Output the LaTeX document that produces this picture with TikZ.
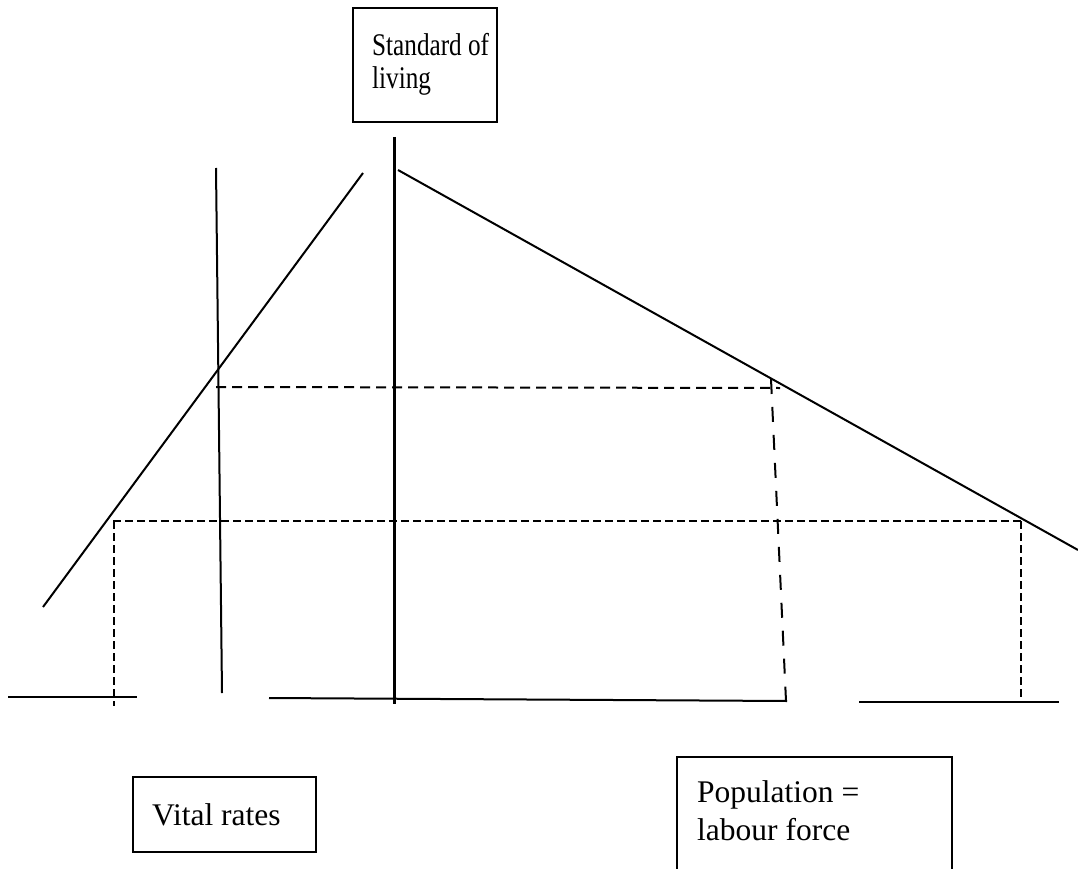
\documentclass[tikz,border=0pt]{standalone}
\usepackage{fontspec}
\setmainfont{Liberation Serif}
\newfontfamily\narrowserif[FakeStretch=0.8]{Liberation Serif}
\begin{document}
\begin{tikzpicture}[x=1pt,y=-1pt,
  thinline/.style={line width=2pt},
  axisline/.style={line width=3pt},
  boxline/.style={line width=2.5pt},
  shortdash/.style={line width=2.3pt,dash pattern=on 8pt off 4pt},
  longdash/.style={line width=2pt,dash pattern=on 15pt off 13pt},
  middash/.style={line width=2pt,dash pattern=on 10pt off 6pt},
  lbl/.style={align=left,inner sep=0pt,anchor=west},
  topfont/.style={font=\narrowserif\fontsize{31.5}{33}\selectfont},
  botfont/.style={font=\fontsize{31.5}{38}\selectfont}]
\useasboundingbox (0,0) rectangle (1078,869);
\clip (0,0) rectangle (1078,869);
% boxes
\draw[boxline] (353,8) rectangle (497,122);
\node[lbl,topfont] (sol) at (372,64) {Standard of\\living};
\draw[boxline] (133,777) rectangle (316,852);
\node[lbl,botfont] (vr) at (152,815) {Vital rates};
\draw[boxline] (677,880) |- (952,757) -- (952,880);
\node[lbl,botfont] (pop) at (697,811) {Population =\\labour force};
% coordinates
\coordinate (axT) at (394,137);
\coordinate (axB) at (394,704);
\coordinate (nvT) at (216,168);
\coordinate (nvB) at (222,693);
\coordinate (ldB) at (43,607);
\coordinate (ldT) at (363,173);
\coordinate (rdT) at (398,170);
\coordinate (rdB) at (1078,550);
\coordinate (b1a) at (8,697);
\coordinate (b1b) at (137,697);
\coordinate (b2a) at (269,698);
\coordinate (b2b) at (787,701);
\coordinate (b3a) at (859,702);
\coordinate (b3b) at (1059,702);
\coordinate (h1a) at (216,387);
\coordinate (h1b) at (780,388);
\coordinate (v2a) at (771,379);
\coordinate (v2b) at (786,701);
\coordinate (h2a) at (113,521);
\coordinate (h2b) at (1022,521);
\coordinate (v1a) at (114,521);
\coordinate (v1b) at (114,706);
\coordinate (v3a) at (1021,521);
\coordinate (v3b) at (1021,700);
% lines
\draw[axisline] (axT) -- (axB);
\draw[thinline] (nvT) -- (nvB);
\draw[thinline] (ldB) -- (ldT);
\draw[thinline] (rdT) -- (rdB);
\draw[thinline] (b1a) -- (b1b);
\draw[thinline] (b2a) -- (b2b);
\draw[thinline] (b3a) -- (b3b);
% dashed
\draw[middash] (h1a) -- (h1b);
\draw[longdash] (v2a) -- (v2b);
\draw[shortdash] (h2a) -- (h2b);
\draw[shortdash] (v1a) -- (v1b);
\draw[shortdash] (v3a) -- (v3b);
\end{tikzpicture}
\end{document}
